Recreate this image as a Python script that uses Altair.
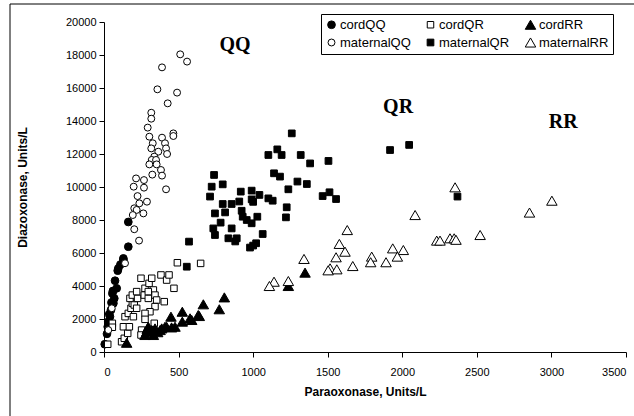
import altair as alt
import pandas as pd

series_names = ["cordQQ", "cordQR", "cordRR", "maternalQQ", "maternalQR", "maternalRR"]

cordQQ_x = [5, 20, 25, 29, 40, 35, 47, 63, 50, 69, 56, 60, 85, 74, 92, 96, 110, 130, 130, 163, 163]
cordQQ_y = [470, 1100, 1530, 1840, 2140, 2300, 2550, 2950, 3000, 3250, 3550, 3700, 3860, 4320, 4930, 5070, 5300, 5580, 5670, 6380, 7880]

cordQR_x = [25, 56, 56, 130, 118, 136, 159, 170, 141, 163, 181, 190, 174, 190, 203, 219, 225, 219, 248, 275,
            270, 297, 302, 320, 331, 342, 353, 382, 420, 436, 469, 404, 342, 308, 275, 275, 337, 252, 248, 197,
            492, 648, 297]
cordQR_y = [470, 1740, 1500, 1530, 620, 830, 1130, 1530, 2140, 2340, 2650, 2950, 3250, 3450, 2850, 2650, 3250, 3660, 4470, 3860,
            3450, 3250, 4160, 4470, 3760, 3450, 3150, 4670, 4360, 4670, 3860, 3050, 2750, 2440, 2340, 1980, 1740, 1330, 1030, 2140,
            5410, 5370, 3660]

cordRR_x = [152, 286, 297, 275, 331, 376, 420, 449, 476, 525, 525, 577, 632, 666, 639, 588, 773, 807, 453, 320,
            342, 387, 409, 1236, 1348, 290, 360]
cordRR_y = [560, 1230, 1530, 1030, 1030, 1330, 1530, 2140, 1530, 2440, 1840, 2040, 2240, 2890, 2180, 1940, 2590, 3310, 1490, 1330,
            1430, 1430, 1530, 4000, 4810, 1400, 1200]

maternalQQ_x = [511, 557, 389, 358, 490, 427, 317, 317, 293, 304, 465, 465, 389, 327, 409, 317, 416, 364, 423, 337,
                320, 349, 304, 353, 382, 324, 389, 215, 268, 199, 268, 416, 225, 288, 237, 203, 219, 264, 193, 203,
                235, 141, 52, 29]
maternalQQ_y = [18040, 17600, 17250, 15920, 15720, 15070, 14500, 14140, 13600, 13050, 13250, 13090, 12990, 12650, 12650, 12340, 12340, 12140, 12000, 11840,
                11640, 11640, 11370, 11370, 11030, 10750, 10690, 10520, 10420, 10020, 9960, 9860, 9450, 9110, 9010, 8710, 8610, 8400, 8300, 7440,
                6750, 5380, 2650, 1330]

maternalQR_x = [1259, 1162, 1191, 1102, 1319, 1382, 1505, 1140, 1180, 1297, 1360, 1236, 738, 722, 711, 796, 917, 990, 1042, 990,
                1102, 1131, 907, 856, 796, 1225, 1220, 812, 744, 923, 930, 1028, 957, 990, 782, 733, 744, 856, 1064, 834,
                890, 1020, 979, 1466, 1512, 1556, 1918, 2046, 2370, 570, 555, 1000, 880, 1000]
maternalQR_y = [13250, 12280, 11940, 11940, 11940, 11430, 11580, 10830, 10630, 10330, 10180, 9860, 10730, 10020, 9420, 10160, 9720, 9780, 9520, 9250,
                9310, 9170, 9120, 8970, 8970, 8770, 8160, 8460, 8400, 8560, 8200, 8200, 8000, 7800, 7840, 7490, 7090, 7490, 7150, 6890,
                6890, 6590, 6330, 9450, 9680, 9270, 12240, 12550, 9420, 6690, 5170, 9100, 6700, 6450]

maternalRR_x = [2354, 2086, 3003, 2853, 2522, 1631, 1578, 1616, 1556, 1516, 1561, 1503, 1668, 1795, 1788, 1891, 1936, 2007, 1967, 2231,
                2253, 2320, 2348, 2360, 1341, 1140, 1109, 1236]
maternalRR_y = [9980, 8300, 9170, 8450, 7090, 7390, 6550, 6080, 5740, 5070, 5010, 4950, 5210, 5780, 5440, 5440, 6280, 6180, 5780, 6750,
                6750, 6890, 6890, 6800, 5640, 4260, 4000, 4300]

label_text = ["QQ", "QR", "RR"]
label_x = [879, 1972, 3079]
label_y = [18600, 14850, 13940]

x_ticks = [0, 500, 1000, 1500, 2000, 2500, 3000, 3500]
y_ticks = [0, 2000, 4000, 6000, 8000, 10000, 12000, 14000, 16000, 18000, 20000]

xs = [cordQQ_x, cordQR_x, cordRR_x, maternalQQ_x, maternalQR_x, maternalRR_x]
ys = [cordQQ_y, cordQR_y, cordRR_y, maternalQQ_y, maternalQR_y, maternalRR_y]
rows = []
for name, xl, yl in zip(series_names, xs, ys):
    for a, b in zip(xl, yl):
        rows.append({"series": name, "para": a, "diaz": b})
df = pd.DataFrame(rows)
labels_df = pd.DataFrame({"t": label_text, "para": label_x, "diaz": label_y})

x_scale = alt.Scale(domain=[0, 3500], nice=False)
y_scale = alt.Scale(domain=[0, 20000], nice=False)
x_axis = alt.Axis(title="Paraoxonase, Units/L", values=x_ticks, format="d", labelPadding=9, titlePadding=9)
y_axis = alt.Axis(title="Diazoxonase, Units/L", values=y_ticks, format="d",
                  labelOverlap=False, labelPadding=3, titlePadding=36)

legend = alt.Legend(title=None, orient="none", legendX=217, legendY=-8, columns=3, direction="horizontal")

points = alt.Chart(df).mark_point(filled=True, strokeWidth=1, opacity=1).encode(
    x=alt.X("para:Q", scale=x_scale, axis=x_axis),
    y=alt.Y("diaz:Q", scale=y_scale, axis=y_axis),
    shape=alt.Shape("series:N", scale=alt.Scale(domain=series_names,
                    range=["circle", "square", "triangle-up", "circle", "square", "triangle-up"]), legend=legend),
    fill=alt.Fill("series:N", scale=alt.Scale(domain=series_names,
                  range=["black", "white", "black", "white", "black", "white"]), legend=legend),
    stroke=alt.Stroke("series:N", scale=alt.Scale(domain=series_names,
                      range=["black", "black", "black", "black", "black", "black"]), legend=legend),
    size=alt.Size("series:N", scale=alt.Scale(type="ordinal", domain=series_names,
                  range=[60, 42, 110, 48, 45, 110]), legend=legend),
)

texts = alt.Chart(labels_df).mark_text(font="Liberation Serif", fontWeight="bold", fontSize=20, color="black").encode(
    x=alt.X("para:Q", scale=x_scale, axis=x_axis), y=alt.Y("diaz:Q", scale=y_scale, axis=y_axis), text="t:N"
)

frame_df = pd.DataFrame({"a": [0]})
frame_left = alt.Chart(frame_df).mark_rule(color="black", strokeWidth=1).encode(
    x=alt.value(-94), y=alt.value(-18), y2=alt.value(420))
frame_top = alt.Chart(frame_df).mark_rule(color="black", strokeWidth=1).encode(
    x=alt.value(-94), x2=alt.value(560), y=alt.value(-18))

chart = alt.layer(points, texts, frame_left, frame_top).properties(
    width=522, height=330,
    autosize=alt.AutoSizeParams(type="none"),
    padding={"left": 104, "top": 22, "right": 8, "bottom": 64},
).configure_view(stroke=None).configure_axis(
    grid=False, domainColor="black", tickColor="black", labelColor="black", titleColor="black",
    labelFont="Liberation Sans", labelFontSize=11, titleFont="Liberation Sans", titleFontSize=12,
    titleFontWeight="bold", tickSize=5, labelOverlap=False,
).configure_legend(
    strokeColor="black", padding=4, labelFont="Liberation Sans", labelFontSize=13,
    labelColor="black", columnPadding=13, rowPadding=3, symbolStrokeWidth=1, labelOffset=2,
)

chart.save("out.html", embed_options={"renderer": "svg", "actions": False})
